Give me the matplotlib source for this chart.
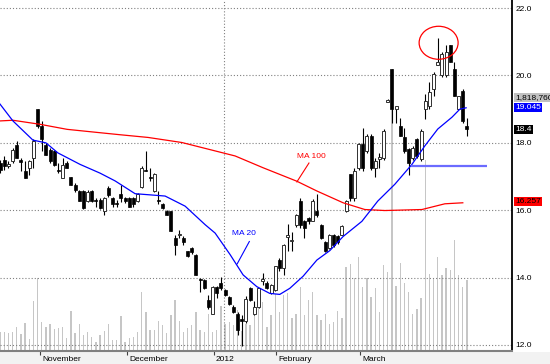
import matplotlib
matplotlib.use("Agg")
import matplotlib.pyplot as plt
import matplotlib.transforms as mtransforms
from matplotlib.patches import Ellipse, Rectangle
import numpy as np

plt.rcParams["font.family"] = ["Liberation Sans", "DejaVu Sans"]

# ── daily OHLC ───────────────────────────────────────────────────────────
opens = [17.40, 17.50, 17.30, 17.45, 17.95, 17.50, 17.15, 17.25, 17.55, 19.00,
         18.50, 17.95, 17.80, 17.75, 17.18, 16.95, 17.40, 16.98, 16.76, 16.56,
         16.56, 16.27, 16.58, 16.30, 16.30, 15.97, 16.66, 16.37, 16.20, 16.47,
         16.37, 16.37, 16.35, 16.27, 16.70, 17.20, 16.98, 16.57, 16.30, 16.19,
         15.99, 15.97, 15.17, 15.25, 15.17, 14.78, 14.88, 14.68, 13.95, 13.93,
         13.33, 12.93, 13.73, 13.83, 13.63, 13.43, 13.13, 12.93, 12.75, 12.70,
         13.68, 12.93, 13.13, 13.90, 13.83, 13.53, 13.63, 14.53, 14.28, 15.20,
         15.08, 15.57, 16.27, 15.67, 15.77, 15.67, 15.97, 15.57, 15.07, 14.88,
         15.27, 15.22, 15.27, 15.97, 17.06, 16.37, 17.26, 17.96, 17.76, 18.20,
         17.26, 17.52, 17.56, 19.22, 20.20, 19.00, 18.50, 18.16, 17.81, 17.56,
         18.10, 17.51, 19.00, 19.10, 19.60, 20.30, 20.00, 20.00, 20.90, 20.20,
         19.00, 19.55, 18.50]
highs = [17.50, 17.60, 17.45, 17.85, 18.05, 17.55, 17.45, 17.50, 18.10, 19.00,
         18.65, 18.00, 17.85, 17.80, 17.40, 17.55, 17.45, 17.00, 16.80, 16.60,
         16.60, 16.60, 16.60, 16.35, 16.35, 16.40, 16.72, 16.40, 16.30, 16.75,
         16.40, 16.40, 16.40, 16.50, 17.30, 17.76, 17.26, 17.10, 16.57, 16.20,
         16.00, 15.97, 15.27, 15.42, 15.22, 14.80, 14.90, 14.70, 13.98, 13.95,
         13.48, 13.75, 13.75, 14.03, 13.65, 13.45, 13.20, 12.97, 12.90, 13.45,
         13.73, 13.30, 13.70, 14.13, 13.90, 13.80, 14.35, 14.58, 15.00, 15.60,
         15.35, 15.90, 16.37, 15.70, 15.80, 16.32, 16.47, 15.60, 15.10, 15.30,
         15.30, 15.25, 15.55, 16.30, 17.06, 17.26, 18.00, 18.45, 18.25, 18.25,
         17.56, 17.71, 18.40, 19.30, 20.20, 19.10, 18.75, 18.45, 17.85, 17.90,
         18.15, 18.40, 19.45, 19.80, 20.10, 21.10, 20.70, 20.90, 20.90, 20.40,
         19.40, 19.60, 18.74]
lows = [17.10, 17.20, 17.25, 17.40, 17.55, 17.15, 16.95, 17.05, 17.25, 18.45,
        17.75, 17.65, 17.40, 17.30, 17.10, 16.95, 17.25, 16.75, 16.55, 16.27,
        16.05, 16.25, 16.25, 16.10, 16.05, 15.85, 16.40, 16.10, 16.10, 16.25,
        16.20, 16.10, 16.10, 16.25, 16.65, 17.15, 16.86, 16.55, 16.19, 16.05,
        15.85, 15.37, 14.67, 15.17, 14.97, 14.60, 14.70, 14.08, 13.58, 13.65,
        13.08, 12.93, 13.38, 13.63, 13.45, 13.20, 12.95, 12.30, 11.98, 12.65,
        13.30, 12.90, 13.10, 13.78, 13.65, 13.50, 13.60, 14.20, 14.08, 14.80,
        14.78, 15.50, 15.47, 15.17, 15.60, 15.67, 15.80, 15.15, 14.75, 14.85,
        14.90, 15.00, 15.25, 15.95, 16.27, 16.27, 17.20, 17.15, 17.70, 17.20,
        17.00, 17.26, 17.50, 19.20, 18.60, 18.60, 18.20, 17.70, 17.05, 17.50,
        17.55, 17.45, 18.70, 19.00, 19.40, 20.30, 19.95, 19.95, 20.40, 19.40,
        19.00, 18.60, 18.20]
closes = [17.20, 17.30, 17.38, 17.80, 17.55, 17.42, 16.95, 17.45, 18.05, 18.50,
          18.10, 17.65, 17.45, 17.35, 17.15, 17.35, 17.25, 16.75, 16.60, 16.27,
          16.07, 16.55, 16.27, 16.27, 16.07, 16.37, 16.46, 16.17, 16.17, 16.37,
          16.27, 16.10, 16.17, 16.47, 17.25, 17.16, 16.96, 17.06, 16.27, 16.07,
          15.87, 15.37, 14.97, 15.28, 15.07, 14.63, 14.76, 14.08, 13.93, 13.68,
          13.13, 13.73, 13.53, 13.68, 13.48, 13.23, 12.98, 12.44, 12.72, 13.35,
          13.33, 13.13, 13.68, 13.95, 13.68, 13.78, 14.33, 14.28, 14.98, 15.25,
          15.12, 15.87, 15.57, 15.47, 15.67, 16.27, 15.87, 15.17, 14.78, 15.27,
          14.97, 15.07, 15.52, 16.27, 16.37, 17.16, 17.96, 17.26, 18.20, 17.26,
          17.46, 17.58, 18.36, 19.27, 19.00, 19.08, 18.20, 17.76, 17.41, 17.86,
          17.61, 18.36, 19.25, 19.50, 20.05, 20.40, 20.65, 20.70, 20.40, 19.40,
          19.40, 18.66, 18.40]
# volume in thousands of shares
volumes = [494, 479, 453, 479, 622, 428, 709, 307, 1280, 1861,
           735, 622, 684, 556, 596, 622, 325, 1024, 453, 684,
           410, 479, 351, 238, 410, 512, 684, 282, 282, 904,
           223, 340, 366, 494, 1518, 1006, 538, 538, 768, 666,
           453, 922, 1306, 768, 494, 596, 666, 1006, 538, 494,
           940, 494, 538, 1160, 684, 750, 666, 1050, 512, 684,
           666, 991, 1093, 1247, 622, 922, 1452, 1006, 1434, 1477,
           852, 940, 1646, 922, 1306, 1518, 922, 794, 940, 684,
           735, 1024, 852, 2158, 2220, 1876, 2414, 1646, 1861, 1390,
           1605, 1006, 2202, 2030, 6298, 1672, 2245, 1733, 1518, 940,
           1075, 1364, 4890, 1964, 1861, 2414, 1946, 2132, 2074, 2842,
           1946, 1650, 1819]

# moving averages, sampled along the curves (bar index, price)
ma20_x = [0, 3.1, 7.9, 11.0, 13.9, 19.2, 24.0, 27.6, 32.4, 39.6, 44.4, 49.2,
          51.6, 55.2, 58.3, 61.6, 64.7, 67.1, 69.5, 72.7, 76.0, 79.1, 82.3,
          86.8, 90.6, 94.7, 98.8, 101.9, 105.0, 108.4, 110.3, 111.8]
ma20_y = [19.15, 18.65, 18.08, 18.00, 17.70, 17.36, 17.10, 16.87, 16.49, 16.42,
          16.12, 15.57, 15.32, 14.68, 14.08, 13.73, 13.53, 13.50, 13.68, 14.04,
          14.52, 14.80, 15.22, 15.67, 16.27, 16.77, 17.36, 17.91, 18.41, 18.76,
          19.00, 19.04]
ma100_x = [0, 3.1, 9.6, 16.1, 24.0, 28.8, 35.5, 43.6, 51.6, 56.4, 63.1, 71.2,
           76.0, 82.3, 87.5, 92.3, 101.2, 106.7, 111.0]
ma100_y = [18.65, 18.67, 18.55, 18.40, 18.30, 18.24, 18.16, 18.01, 17.76, 17.61,
           17.26, 16.86, 16.57, 16.22, 16.02, 15.99, 16.02, 16.19, 16.22]

month_pos = [9.6, 30.5, 51.3, 66.2, 86.3]
month_labels = ["November", "December", "2012", "February", "March"]
price_ticks = [12, 14, 16, 18, 20, 22]

support_level = 17.31
last_volume = "1,818,760"
last_ma20 = 19.045
last_close = 18.4
last_ma100 = 16.257

x = np.arange(len(closes))
o = np.array(opens)
h = np.array(highs)
l = np.array(lows)
c = np.array(closes)
up = c >= o

fig = plt.figure(figsize=(5.5, 3.64), dpi=100)
fig.patches.append(Rectangle((0, 0), 1, 12 / 364, transform=fig.transFigure,
                             facecolor="#f2f2f2", edgecolor="none", zorder=-5))
rect = [0, 13 / 364, 512 / 550, 351 / 364]

# volume underneath
ax_vol = fig.add_axes(rect)
ax_vol.bar(x, volumes, width=0.32, color="#c6c6c6", linewidth=0)
ax_vol.set_xlim(0, 122.8)
ax_vol.set_ylim(0, 8990)
ax_vol.axis("off")

# price on top
ax = fig.add_axes(rect)
ax.patch.set_alpha(0)
ax.set_xlim(0, 122.8)
ax.set_ylim(11.82, 22.24)

dots = (0, (1, 1.8))
for p in price_ticks:
    ax.axhline(p, color="#808080", lw=0.8, linestyle=dots, zorder=1)
ax.axvline(53.7, color="#808080", lw=0.8, linestyle=dots, zorder=1)

ax.vlines(x, l, h, color="black", lw=0.8, zorder=3)
body_lo = np.minimum(o, c)
body_h = np.maximum(np.abs(c - o), 0.04)
ax.bar(x[up], body_h[up], bottom=body_lo[up], width=0.72, facecolor="white",
       edgecolor="#303030", linewidth=0.7, zorder=4)
ax.bar(x[~up], body_h[~up], bottom=body_lo[~up], width=0.72, facecolor="black",
       edgecolor="black", linewidth=0.5, zorder=4)

ax.plot(ma100_x, ma100_y, color="#ff0000", lw=0.9, zorder=5)
ax.plot(ma20_x, ma20_y, color="#0000ff", lw=0.9, zorder=5)
ax.hlines(support_level, 98.5, 116.8, color="#6b6bff", lw=1.6, zorder=5)

ax.add_patch(Ellipse((105.2, 20.97), 9.35, 0.98, fill=False, edgecolor="#ff0000",
                     lw=0.9, zorder=6))

ax.text(74.7, 17.58, "MA 100", color="#ff0000", fontsize=6, ha="center", va="center")
ax.plot([74.1, 71.2], [17.40, 16.84], color="#ff0000", lw=0.8)
ax.text(58.4, 15.31, "MA 20", color="#0000ff", fontsize=6, ha="center", va="center")
ax.plot([59.8, 56.9], [15.07, 14.41], color="#0000ff", lw=0.8)

# axes / ticks
for side in ["top", "left"]:
    ax.spines[side].set_visible(False)
ax.spines["right"].set_color("black")
ax.spines["right"].set_linewidth(1.3)
ax.spines["bottom"].set_color("#808080")
ax.spines["bottom"].set_linewidth(1.5)

ax.yaxis.tick_right()
ax.set_yticks(price_ticks)
ax.set_yticklabels([f"{p:.1f}" for p in price_ticks])
ax.tick_params(axis="y", length=0, pad=2.5, labelsize=6)

ax.set_xticks(month_pos)
ax.set_xticklabels(month_labels, ha="left")
ax.tick_params(axis="x", length=3, width=0.8, color="#404040", pad=0.5, labelsize=6)
shift = mtransforms.ScaledTranslation(1.5 / 72, 0, fig.dpi_scale_trans)
for lab in ax.get_xticklabels():
    lab.set_transform(lab.get_transform() + shift)

# last-value tags on the right
tags = [(0.722, "axes", last_volume, "#c0c0c0", "black"),
        (last_ma20, "data", f"{last_ma20:.3f}", "#0000ff", "white"),
        (last_close, "data", f"{last_close:.1f}", "black", "white"),
        (last_ma100, "data", f"{last_ma100:.3f}", "#ff0000", "black")]
for yv, mode, txt, bg, fg in tags:
    yc = "axes fraction" if mode == "axes" else "data"
    ax.annotate(txt, xy=(1.0, yv), xycoords=("axes fraction", yc),
                xytext=(2.5, 0), textcoords="offset points", ha="left", va="center",
                fontsize=6, color=fg, annotation_clip=False,
                bbox=dict(boxstyle="square,pad=0.12", facecolor=bg, edgecolor="none"))

fig.savefig("out.png", dpi=100)
